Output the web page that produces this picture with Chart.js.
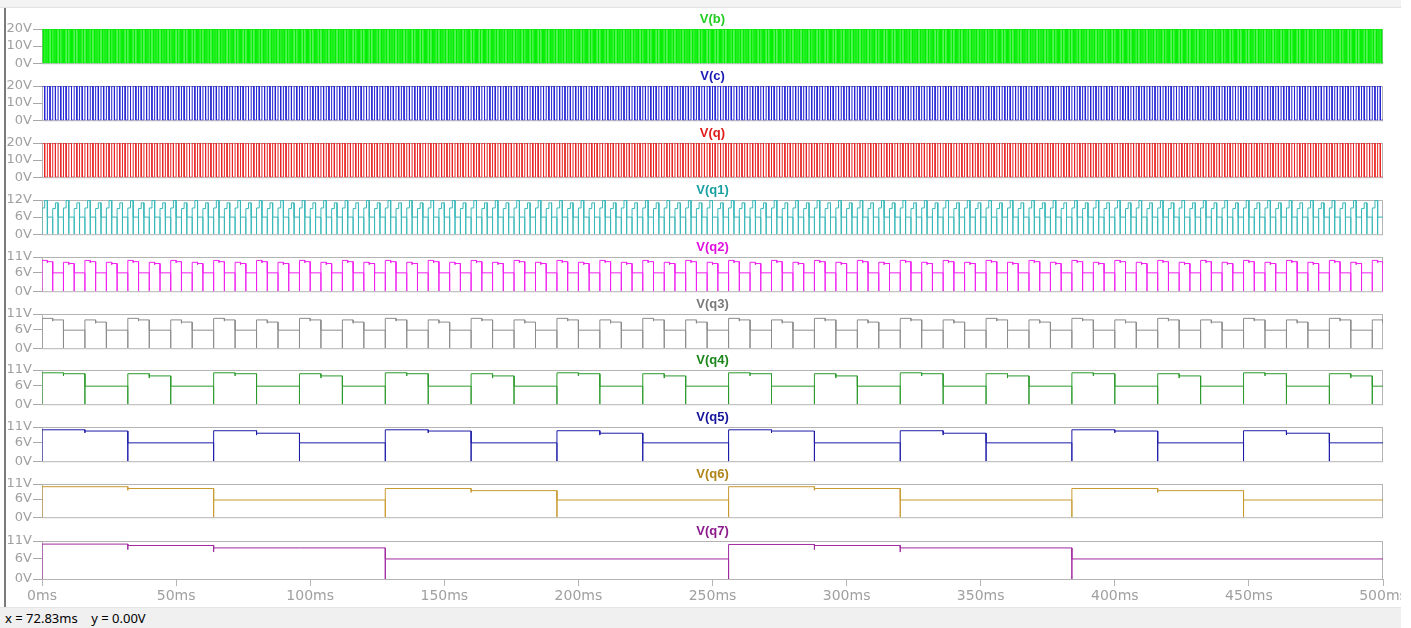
<!DOCTYPE html>
<html>
<head>
<meta charset="utf-8">
<script src="https://cdn.jsdelivr.net/npm/chart.js@4/dist/chart.umd.min.js"></script>
<style>
  html, body { margin: 0; padding: 0; background: #fff; }
  #wrap { position: relative; width: 1411px; height: 628px; overflow: hidden; background: #fff; }
  #win { position: absolute; left: 0; top: 0; width: 1401px; height: 628px; overflow: hidden; }
  #topband { position: absolute; left: 0; top: 0; width: 1401px; height: 7px; background: #f3f3f3; border-bottom: 1px solid #e2e2e2; }
  #leftline { position: absolute; left: 4px; top: 8px; width: 2px; height: 599px; background: #7a7a7a; }
  #status { position: absolute; left: 0; top: 607px; width: 1401px; height: 21px; background: #f0f0f0; border-top: 1px solid #e6e6e6;
            font: 13px "Noto Sans", "Open Sans", sans-serif; color: #000; white-space: pre; line-height: 20px; padding-left: 5px; box-sizing: border-box; }
  .pane { position: absolute; left: 0; }
</style>
</head>
<body>
<div id="wrap">
  <div id="win">
    <div id="topband"></div>
    <div id="leftline"></div>
    <div id="panes"></div>
    <div id="status">x = 72.83ms    y = 0.00V</div>
  </div>
</div>
<script>
// ---------- data ----------
const traceNames  = ["V(b)", "V(c)", "V(q)", "V(q1)", "V(q2)", "V(q3)", "V(q4)", "V(q5)", "V(q6)", "V(q7)"];
const timeTicks   = [0, 50, 100, 150, 200, 250, 300, 350, 400, 450, 500]; // ms
const voltTicks   = [[0, 10, 20], [0, 10, 20], [0, 10, 20], [0, 6, 12], [0, 6, 11],
                     [0, 6, 11], [0, 6, 11], [0, 6, 11], [0, 6, 11], [0, 6, 11]];
const periodMs    = [1, 2, 2, 4, 8, 16, 32, 64, 128, 256];
const lowLevel    = [0, 0, 0, 6.0, 5.9, 5.8, 5.8, 5.9, 5.7, 5.8];
// level at each edge (0V glitch) or null when the edge is clean
const edgeLevel   = [null, null, null, 0, 0, 0, 0, 0, 0, 0];
// high levels inside a pulse, alternating pulse A / pulse B
const pulseA      = [[20], [20], [20], [9.2, 11.8], [9.9, 9.5], [9.6, 9.1], [10.1, 9.8], [10.1, 9.7], [10.1, 9.5], [10.1, 9.7, 9.0, 9.0]];
const pulseB      = [[20], [20], [20], [9.0, 11.0], [9.3, 8.9], [9.1, 8.4], [9.8, 9.1], [9.8, 9.0], [9.5, 8.8], [10.0, 9.7, 9.0, 9.0]];
const stepDip     = [0, 0, 0, 0, 0.4, 0.4, 0.7, 0.6, 0.6, 1.2];

// ---------- styles ----------
const traceColors = ["#00ee00", "#2424d4", "#e82424", "#38b8b8", "#f020f0", "#8c8c8c", "#2c9a2c", "#1c1ca8", "#c89a30", "#a028a0"];
const titleColors = ["#22cc22", "#1a1ab4", "#e01c1c", "#1aa0a0", "#e010e0", "#7a7a7a", "#1c861c", "#14149a", "#b08418", "#8c1a8c"];
const paneTop     = [29, 86, 143, 200, 257, 314, 370, 427, 484, 541];
const paneH       = [35, 35, 35, 35, 35, 35, 35, 35, 34, 38];

Chart.defaults.font.family = "DejaVu Sans";

function buildTrace(i) {
  const P = periodMs[i], low = lowLevel[i], g = edgeLevel[i], dip = stepDip[i];
  const pts = [];
  let k = 0;
  for (let t0 = 0; t0 < 500; t0 += P, k++) {
    const lv = (k % 2 === 0) ? pulseA[i] : pulseB[i];
    const half = P / 2, seg = half / lv.length;
    if (g !== null) pts.push({ x: t0, y: g });
    lv.forEach((v, j) => {
      const s = t0 + j * seg;
      if (j > 0 && dip && v !== lv[j - 1]) pts.push({ x: s, y: v - dip });
      pts.push({ x: s, y: v });
      pts.push({ x: s + seg, y: v });
    });
    if (g !== null) pts.push({ x: t0 + half, y: g });
    pts.push({ x: t0 + half, y: low });
    pts.push({ x: t0 + P, y: low });
  }
  return pts;
}

const paneBox = {
  id: "paneBox",
  beforeDatasetsDraw(chart) {
    const { ctx, chartArea: a } = chart;
    ctx.save();
    ctx.strokeStyle = "#b4b4b4";
    ctx.lineWidth = 1;
    ctx.strokeRect(a.left + 0.5, a.top + 0.5, a.right - a.left - 1, a.bottom - a.top);
    ctx.restore();
  }
};

const panes = document.getElementById("panes");

traceNames.forEach((name, i) => {
  const last = i === traceNames.length - 1;
  const H = 16 + paneH[i] + (last ? 24 : 8);
  const div = document.createElement("div");
  div.className = "pane";
  div.style.top = (paneTop[i] - 16) + "px";
  const cv = document.createElement("canvas");
  cv.width = 1411;
  cv.height = H;
  cv.style.width = "1411px";
  cv.style.height = H + "px";
  div.appendChild(cv);
  panes.appendChild(div);

  const ticksY = voltTicks[i];
  const xScale = {
    type: "linear",
    min: 0,
    max: 500,
    display: last,
    afterBuildTicks: s => { s.ticks = timeTicks.map(v => ({ value: v })); },
    ticks: {
      color: "#a0a0a0",
      font: { size: 14, lineHeight: 1 },
      padding: 3,
      maxRotation: 0,
      autoSkip: false,
      callback: v => v + "ms"
    },
    grid: { drawOnChartArea: false, tickLength: 7, color: "#b4b4b4" },
    border: { display: false }
  };
  if (last) xScale.afterFit = s => { s.height = 24; };

  const chart = new Chart(cv, {
    type: "line",
    data: {
      datasets: [{
        label: name,
        data: buildTrace(i),
        borderColor: traceColors[i],
        borderWidth: 1,
        pointRadius: 0,
        fill: false,
        tension: 0
      }]
    },
    options: {
      responsive: false,
      animation: false,
      devicePixelRatio: 1,
      events: [],
      layout: { padding: { top: 0, right: 28, bottom: last ? 0 : 8, left: 0 } },
      plugins: {
        legend: { display: false },
        tooltip: { enabled: false },
        title: {
          display: true,
          fullSize: false,
          text: name,
          color: titleColors[i],
          font: { family: "Liberation Sans", size: 13, weight: "bold", lineHeight: 1 },
          padding: { top: 0, bottom: 3 }
        }
      },
      scales: {
        x: xScale,
        y: {
          min: ticksY[0],
          max: ticksY[ticksY.length - 1],
          afterBuildTicks: s => { s.ticks = ticksY.map(v => ({ value: v })); },
          afterFit: s => { s.width = 42; },
          ticks: {
            color: "#a0a0a0",
            font: { size: 13 },
            padding: 1,
            autoSkip: false,
            callback: v => v + "V"
          },
          grid: { drawOnChartArea: false, tickLength: 9, color: "#a8a8a8" },
          border: { display: false }
        }
      }
    },
    plugins: [paneBox]
  });
  div.style.top = (paneTop[i] - chart.chartArea.top) + "px";
});
</script>
</body>
</html>
